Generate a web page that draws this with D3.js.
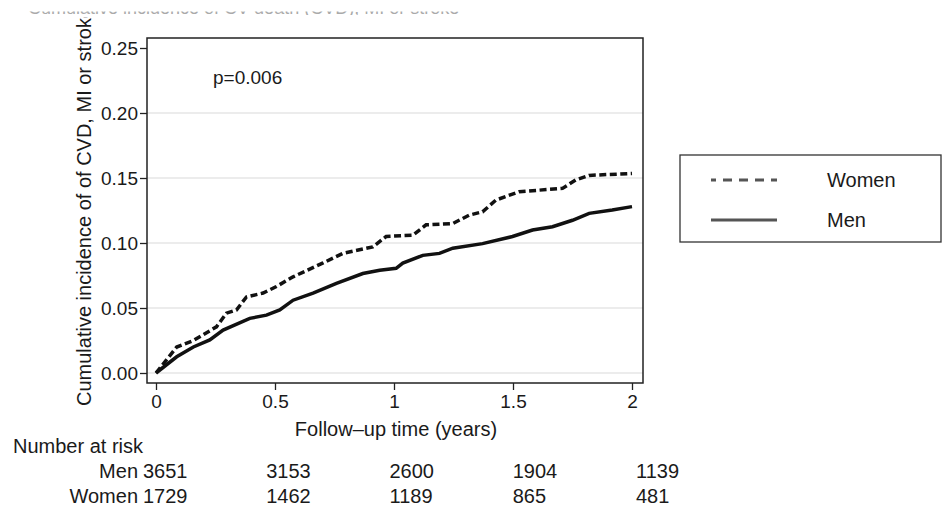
<!DOCTYPE html>
<html>
<head>
<meta charset="utf-8">
<script src="https://cdn.jsdelivr.net/npm/d3@7"></script>
<style>
  body { margin:0; background:#fff; }
  text { font-family: "Liberation Sans", Arial, sans-serif; fill:#1a1a1a; }
</style>
</head>
<body>
<div class="canvas"></div>
<script>
//DATA
var womenTime = [0, 0.087, 0.157, 0.254, 0.296, 0.338, 0.38, 0.45, 0.506, 0.576, 0.70, 0.785, 0.911, 0.967, 1.079, 1.135, 1.247, 1.317, 1.372, 1.428, 1.526, 1.708, 1.764, 1.82, 2.0];
var womenInc  = [0, 0.020, 0.025, 0.0355, 0.046, 0.0485, 0.0585, 0.0615, 0.0665, 0.074, 0.0845, 0.092, 0.097, 0.105, 0.106, 0.114, 0.115, 0.1215, 0.124, 0.133, 0.1395, 0.142, 0.1485, 0.152, 0.1535];
var menTime = [0, 0.087, 0.157, 0.226, 0.282, 0.394, 0.464, 0.52, 0.576, 0.66, 0.758, 0.869, 0.94, 1.009, 1.037, 1.121, 1.191, 1.247, 1.372, 1.498, 1.582, 1.666, 1.75, 1.82, 1.917, 2.0];
var menInc  = [0, 0.0125, 0.020, 0.0255, 0.033, 0.042, 0.0445, 0.0485, 0.056, 0.0615, 0.069, 0.0765, 0.079, 0.0805, 0.0845, 0.0905, 0.092, 0.096, 0.0995, 0.105, 0.110, 0.1125, 0.1175, 0.1228, 0.1254, 0.128];

var xTicks = [0, 0.5, 1, 1.5, 2];
var xTickLabels = ["0", "0.5", "1", "1.5", "2"];
var yTicks = [0, 0.05, 0.10, 0.15, 0.20, 0.25];
var gridTicks = [0, 0.05, 0.10, 0.15, 0.20];

var riskTimes = [0, 0.5, 1, 1.5, 2];
var riskMen   = [3651, 3153, 2600, 1904, 1139];
var riskWomen = [1729, 1462, 1189, 865, 481];

var legendLabels = ["Women", "Men"];

//VIZ DIMENSIONS
var w = 942, h = 507;
var box = { left:147, right:643, top:38, bottom:383 };

const svg = d3.select('.canvas').append('svg')
    .attr('width', w)
    .attr('height', h);
var defs = svg.append('defs');

var x = d3.scaleLinear().domain([0, 2]).range([156, 632]);
var y = d3.scaleLinear().domain([0, 0.25]).range([373, 48]);
var xRisk = d3.scaleLinear().domain([0, 2]).range([143, 636]);

//CUT-OFF TITLE (only the bottom sliver shows, as in the source image)
defs.append('clipPath').attr('id', 'titleClip')
  .append('rect').attr('x', 0).attr('y', 11.5).attr('width', w).attr('height', 3.5);
svg.append('g')
  .attr('clip-path', 'url(#titleClip)')
  .append('text')
    .attr('x', 28).attr('y', 14)
    .style('font-size', '18px')
    .style('fill', '#aaa')
    .text('Cumulative incidence of CV death (CVD), MI or stroke');

//GRIDLINES
svg.append('g').selectAll('line')
  .data(gridTicks)
  .enter().append('line')
    .attr('x1', box.left).attr('x2', box.right)
    .attr('y1', d => y(d)).attr('y2', d => y(d))
    .attr('stroke', '#e6e6e6')
    .attr('stroke-width', 1.5);

//AXES
var yAxis = svg.append('g')
  .attr('transform', 'translate(' + box.left + ',0)')
  .call(d3.axisLeft(y).tickValues(yTicks).tickFormat(d3.format('.2f')).tickSize(7).tickPadding(2));
var xAxis = svg.append('g')
  .attr('transform', 'translate(0,' + box.bottom + ')')
  .call(d3.axisBottom(x).tickValues(xTicks).tickFormat((d, i) => xTickLabels[i]).tickSize(7).tickPadding(5));
[yAxis, xAxis].forEach(a => {
  a.select('.domain').remove();
  a.selectAll('line').attr('stroke', '#222').attr('stroke-width', 1.3);
  a.selectAll('text').style('font-size', '19px').attr('fill', '#1a1a1a');
});

//CURVES
var line = d3.line().x(d => x(d[0])).y(d => y(d[1]));
svg.append('path')
  .datum(womenTime.map((t, i) => [t, womenInc[i]]))
  .attr('d', line)
  .attr('fill', 'none')
  .attr('stroke', '#111')
  .attr('stroke-width', 3.5)
  .attr('stroke-dasharray', '7,3.5');
svg.append('path')
  .datum(menTime.map((t, i) => [t, menInc[i]]))
  .attr('d', line)
  .attr('fill', 'none')
  .attr('stroke', '#111')
  .attr('stroke-width', 3.5);

//FRAME
svg.append('rect')
  .attr('x', box.left).attr('y', box.top)
  .attr('width', box.right - box.left).attr('height', box.bottom - box.top)
  .attr('fill', 'none')
  .attr('stroke', '#222')
  .attr('stroke-width', 1.5);

svg.append('text')
  .attr('x', 213).attr('y', 84)
  .style('font-size', '19px')
  .text('p=0.006');

//AXIS TITLES
defs.append('clipPath').attr('id', 'ylabClip')
  .append('rect').attr('x', 0).attr('y', 17).attr('width', 140).attr('height', h);
svg.append('g')
  .attr('clip-path', 'url(#ylabClip)')
  .append('text')
    .attr('transform', 'translate(91,406) rotate(-90)')
    .style('font-size', '20px')
    .text('Cumulative incidence of of CVD, MI or stroke');

svg.append('text')
  .attr('x', (x(0) + x(2)) / 2 + 2).attr('y', 436)
  .attr('text-anchor', 'middle')
  .style('font-size', '20px')
  .text('Follow\u2013up time (years)');

//LEGEND
svg.append('rect')
  .attr('x', 680).attr('y', 155)
  .attr('width', 261).attr('height', 87)
  .attr('fill', 'none')
  .attr('stroke', '#333')
  .attr('stroke-width', 1.3);
var leg = svg.append('g').selectAll('g')
  .data(legendLabels)
  .enter().append('g')
    .attr('transform', (d, i) => 'translate(0,' + (180 + i * 40) + ')');
leg.append('line')
  .attr('x1', 711).attr('x2', 777)
  .attr('stroke', '#555')
  .attr('stroke-width', 3)
  .attr('stroke-dasharray', (d, i) => i === 0 ? '9,7' : null)
  .attr('stroke-dashoffset', (d, i) => i === 0 ? 4 : null);
leg.append('text')
  .attr('x', 827).attr('dy', '0.35em')
  .style('font-size', '20px')
  .text(d => d);

//NUMBER AT RISK
svg.append('text')
  .attr('x', 13).attr('y', 453)
  .style('font-size', '20px')
  .text('Number at risk');
var rows = [{ name:'Men', vals:riskMen, y:478 }, { name:'Women', vals:riskWomen, y:503 }];
rows.forEach(r => {
  svg.append('text')
    .attr('x', xRisk(0) - 5).attr('y', r.y)
    .attr('text-anchor', 'end')
    .style('font-size', '20px')
    .text(r.name);
  svg.append('g').selectAll('text')
    .data(r.vals)
    .enter().append('text')
      .attr('x', (d, i) => xRisk(riskTimes[i]))
      .attr('y', r.y)
      .style('font-size', '20px')
      .text(d => d);
});
</script>
</body>
</html>
